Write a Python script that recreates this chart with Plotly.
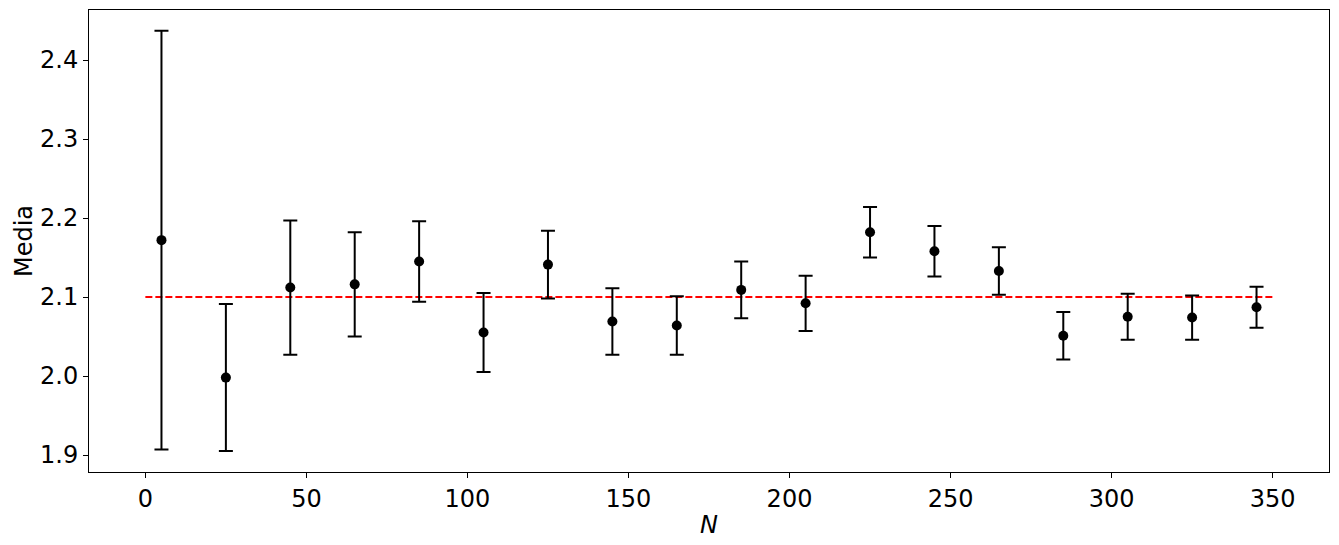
import plotly.graph_objects as go

N = [5, 25, 45, 65, 85, 105, 125, 145, 165, 185, 205, 225, 245, 265, 285, 305, 325, 345]
media = [2.172, 1.998, 2.112, 2.116, 2.145, 2.055, 2.141, 2.069, 2.064, 2.109, 2.092,
         2.182, 2.158, 2.133, 2.051, 2.075, 2.074, 2.087]
errore = [0.265, 0.093, 0.085, 0.066, 0.051, 0.050, 0.043, 0.042, 0.037, 0.036, 0.035,
          0.032, 0.032, 0.030, 0.030, 0.029, 0.028, 0.026]
ref_x = [0, 350]
ref_y = [2.1, 2.1]
x_ticks = [0, 50, 100, 150, 200, 250, 300, 350]
y_ticks = [1.9, 2.0, 2.1, 2.2, 2.3, 2.4]

fig = go.Figure()
fig.add_trace(go.Scatter(
    x=ref_x, y=ref_y, mode="lines",
    line=dict(color="red", width=2, dash="7px,3px"),
    showlegend=False, hoverinfo="skip"))
fig.add_trace(go.Scatter(
    x=N, y=media, mode="markers",
    marker=dict(color="black", size=10),
    error_y=dict(type="data", array=errore, visible=True,
                 color="black", thickness=2, width=7),
    showlegend=False))

font = dict(family="DejaVu Sans", size=24, color="black")
fig.update_layout(
    width=1339, height=545,
    margin=dict(l=89, r=10, t=10, b=73),
    paper_bgcolor="white", plot_bgcolor="white",
    font=font,
    xaxis=dict(range=[-17.5, 367.5], tickvals=x_ticks, ticks="outside", ticklen=5,
               tickwidth=1, tickcolor="black", showline=True, linecolor="black",
               linewidth=1, mirror=True, showgrid=False, zeroline=False,
               tickfont=font, automargin=False,
               title=dict(text="<i>N</i>", font=font, standoff=4)),
    yaxis=dict(range=[1.8785, 2.4633], tickvals=y_ticks, tickformat=".1f",
               ticks="outside", ticklen=5, tickwidth=1, tickcolor="black",
               showline=True, linecolor="black", linewidth=1, mirror=True,
               showgrid=False, zeroline=False, tickfont=font, automargin=False,
               title=dict(text="Media", font=font, standoff=0)),
)

fig.write_html("out.html", config={"displayModeBar": False},
               post_script="document.body.style.margin='0';")
